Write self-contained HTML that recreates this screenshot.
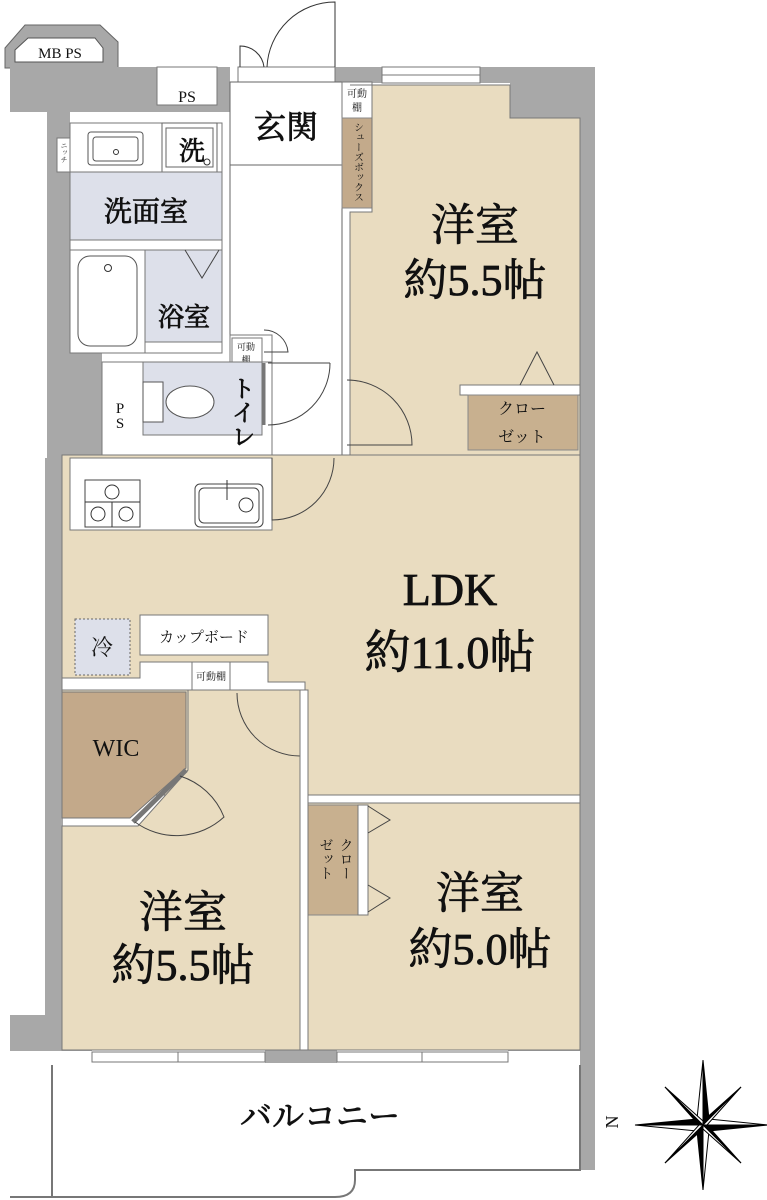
<!DOCTYPE html>
<html><head><meta charset="utf-8"><style>
html,body{margin:0;padding:0;background:#fff;}
svg{display:block}
text{font-family:"Liberation Serif","Noto Serif CJK SC",serif;fill:#111}
.big{stroke:#111;stroke-width:0.8}
</style></head><body>
<svg width="767" height="1200" viewBox="0 0 767 1200" xmlns="http://www.w3.org/2000/svg">
<!-- MB PS -->
<polygon points="5,48 25,25 100,25 118,42 118,68 5,68" fill="#a8a8a8" stroke="#666" stroke-width="1"/>
<polygon points="15,62 15,50 28,38 95,38 103,48 103,62" fill="#fff" stroke="#555" stroke-width="1"/>
<text x="60" y="58" font-size="15" text-anchor="middle">MB PS</text>
<!-- outer gray walls -->
<rect x="10" y="67" width="220" height="45" fill="#a8a8a8"/>
<rect x="47" y="67" width="23" height="393" fill="#a8a8a8"/>
<rect x="47" y="353" width="55" height="107" fill="#a8a8a8"/>
<rect x="45" y="458" width="18" height="560" fill="#a8a8a8"/>
<rect x="335" y="67" width="260" height="16" fill="#a8a8a8"/>
<rect x="510" y="67" width="70" height="51" fill="#a8a8a8"/>
<rect x="580" y="67" width="15" height="1103" fill="#a8a8a8"/>
<rect x="10" y="1015" width="82" height="36" fill="#a8a8a8"/>
<rect x="508" y="1015" width="72" height="36" fill="#a8a8a8"/>
<rect x="265" y="1050" width="72" height="13" fill="#a8a8a8"/>
<!-- windows top -->
<rect x="382" y="67" width="98" height="16" fill="#fff" stroke="#777"/>
<line x1="382" y1="75" x2="480" y2="75" stroke="#777"/>
<!-- entrance door -->
<rect x="238" y="67" width="97" height="15" fill="#fff" stroke="#777"/>
<path d="M335,67 L335,2 A68,68 0 0 0 267,67" fill="none" stroke="#333"/>
<path d="M240,67 L240,46 A24,24 0 0 1 264,67" fill="none" stroke="#333"/>
<!-- PS top -->
<rect x="157" y="67" width="60" height="38" fill="#fff" stroke="#777"/>
<text x="187" y="102" font-size="16" text-anchor="middle">PS</text>
<!-- entrance & corridor -->
<rect x="230" y="82" width="112" height="373" fill="#fff" stroke="#666"/>
<line x1="230" y1="165" x2="342" y2="165" stroke="#666"/>
<text x="286" y="138" font-size="32" text-anchor="middle" class="big">玄関</text>
<rect x="342" y="82" width="30" height="36" fill="#fff" stroke="#777"/>
<text x="357" y="97" font-size="10" text-anchor="middle">可動</text>
<text x="357" y="111" font-size="10" text-anchor="middle">棚</text>
<rect x="342" y="118" width="30" height="90" fill="#c3aa8b" stroke="#888"/>
<text font-size="10" writing-mode="tb" x="357" y="122">シューズボックス</text>
<!-- room 1 top right -->
<polygon points="350,85 510,85 510,118 580,118 580,455 350,455 350,212 372,212 372,85" fill="#e9dcc0" stroke="#777"/>
<text x="475" y="240" font-size="44" text-anchor="middle" class="big">洋室</text>
<text x="475" y="295" font-size="44" text-anchor="middle" class="big">約5.5帖</text>
<rect x="460" y="385" width="120" height="10" fill="#fff" stroke="#777"/>
<rect x="468" y="395" width="110" height="55" fill="#c8b08f" stroke="#888"/>
<polyline points="520,385 537,352 554,385" fill="none" stroke="#444"/>
<text x="522" y="414" font-size="16" text-anchor="middle">クロー</text>
<text x="522" y="442" font-size="16" text-anchor="middle">ゼット</text>
<path d="M347,380 A65,65 0 0 1 412,445 L347,445" fill="none" stroke="#444"/>
<!-- wash area -->
<rect x="70" y="123" width="152" height="230" fill="#fff" stroke="#777"/>
<rect x="57" y="138" width="13" height="34" fill="#fff" stroke="#777"/>
<text x="64" y="142" font-size="7" writing-mode="tb">ニッチ</text>
<rect x="88" y="132" width="55" height="33" rx="3" fill="#fff" stroke="#555"/>
<rect x="93" y="137" width="45" height="24" rx="3" fill="#fff" stroke="#555"/>
<circle cx="116" cy="152" r="2.5" fill="none" stroke="#333"/>
<rect x="162" y="123" width="55" height="49" fill="#fff" stroke="#666"/>
<rect x="166" y="128" width="47" height="39" fill="#fff" stroke="#666"/>
<text x="192" y="160" font-size="26" text-anchor="middle" class="big">洗</text>
<circle cx="207" cy="162" r="3" fill="none" stroke="#333"/>
<rect x="70" y="172" width="152" height="68" fill="#dde0ea" stroke="#777"/>
<text x="146" y="221" font-size="28" text-anchor="middle" class="big">洗面室</text>
<rect x="70" y="250" width="75" height="103" fill="#fff" stroke="#777"/>
<rect x="78" y="256" width="59" height="90" rx="12" fill="#fff" stroke="#555"/>
<circle cx="108" cy="268" r="3.5" fill="none" stroke="#333"/>
<rect x="145" y="250" width="77" height="92" fill="#dde0ea" stroke="#777"/>
<polyline points="185,250 202,278 219,250" fill="none" stroke="#444"/>
<text x="184" y="326" font-size="26" text-anchor="middle" class="big">浴室</text>
<!-- shelf & toilet -->
<rect x="230" y="335" width="42" height="120" fill="#fff" stroke="#777"/>
<rect x="232" y="338" width="30" height="30" fill="#fff" stroke="#777"/>
<text x="246" y="350" font-size="9" text-anchor="middle">可動</text>
<text x="246" y="363" font-size="9" text-anchor="middle">棚</text>
<path d="M264,330 A24,24 0 0 1 288,352 L264,352" fill="none" stroke="#444"/>
<rect x="102" y="362" width="170" height="96" fill="#fff" stroke="#777"/>
<rect x="143" y="362" width="119" height="73" fill="#dde0ea" stroke="#777"/>
<text x="120" y="413" font-size="15" text-anchor="middle">P</text>
<text x="120" y="428" font-size="15" text-anchor="middle">S</text>
<rect x="143" y="382" width="20" height="40" fill="#fff" stroke="#555"/>
<ellipse cx="190" cy="402" rx="24" ry="16" fill="#fff" stroke="#555"/>
<text font-size="24" writing-mode="tb" x="240" y="376" class="big">トイレ</text>
<line x1="264" y1="363" x2="264" y2="425" stroke="#777" stroke-width="3"/>
<path d="M330,363 L268,363 M330,363 A62,62 0 0 1 268,425" fill="none" stroke="#444"/>
<!-- LDK -->
<rect x="62" y="455" width="518" height="340" fill="#e9dcc0" stroke="#777"/>
<rect x="70" y="458" width="202" height="72" fill="#fff" stroke="#777"/>
<rect x="85" y="480" width="55" height="47" fill="#fff" stroke="#444"/>
<circle cx="112" cy="492" r="7" fill="none" stroke="#333"/>
<circle cx="98" cy="514" r="7" fill="none" stroke="#333"/>
<circle cx="126" cy="514" r="7" fill="none" stroke="#333"/>
<line x1="85" y1="502" x2="140" y2="502" stroke="#333"/>
<line x1="112" y1="502" x2="112" y2="527" stroke="#333"/>
<rect x="195" y="484" width="68" height="43" rx="5" fill="#fff" stroke="#444"/>
<rect x="199" y="488" width="60" height="35" rx="5" fill="#fff" stroke="#444"/>
<circle cx="246" cy="505" r="7" fill="none" stroke="#333"/>
<line x1="227" y1="480" x2="227" y2="500" stroke="#333"/>
<path d="M272,458 L272,520 A62,62 0 0 0 334,458" fill="none" stroke="#444"/>
<text x="450" y="605" font-size="46" text-anchor="middle" class="big">LDK</text>
<text x="450" y="668" font-size="46" text-anchor="middle" class="big">約11.0帖</text>
<rect x="75" y="619" width="55" height="56" fill="#dde0ea" stroke="#666" stroke-dasharray="2,2"/>
<text x="102" y="655" font-size="22" text-anchor="middle">冷</text>
<rect x="140" y="615" width="128" height="40" fill="#fff" stroke="#777"/>
<text x="204" y="642" font-size="15" text-anchor="middle">カップボード</text>
<polygon points="62,678 140,678 140,662 268,662 268,682 305,682 305,798 300,798 300,690 62,690" fill="#fff" stroke="#777"/>
<rect x="192" y="662" width="38" height="28" fill="#fff" stroke="#777"/>
<text x="211" y="680" font-size="10" text-anchor="middle">可動棚</text>
<!-- bedroom left -->
<polygon points="62,690 188,690 188,770 138,826 62,826 62,1050 300,1050 300,690 195,690" fill="#e9dcc0" stroke="#777"/>
<polygon points="62,692 186,692 186,768 130,818 62,818" fill="#c3a98a" stroke="#777"/>
<line x1="186" y1="770" x2="133" y2="822" stroke="#777" stroke-width="5"/>
<path d="M180,776 A70,70 0 0 1 224,817 A70,70 0 0 1 135,822" fill="none" stroke="#444"/>
<text x="116" y="756" font-size="24" text-anchor="middle">WIC</text>
<path d="M237,693 A63,63 0 0 0 300,756 L300,693" fill="none" stroke="#444"/>
<text x="183" y="927" font-size="44" text-anchor="middle" class="big">洋室</text>
<text x="183" y="980" font-size="44" text-anchor="middle" class="big">約5.5帖</text>
<!-- bedroom right -->
<rect x="308" y="795" width="272" height="8" fill="#fff" stroke="#777"/>
<rect x="308" y="803" width="272" height="247" fill="#e9dcc0" stroke="#777"/>
<rect x="308" y="805" width="50" height="110" fill="#c8b08f" stroke="#888"/>
<rect x="358" y="805" width="10" height="110" fill="#fff" stroke="#777"/>
<polyline points="368,806 390,820 368,833" fill="none" stroke="#444"/>
<polyline points="368,885 390,898 368,912" fill="none" stroke="#444"/>
<text font-size="14" writing-mode="tb" x="345" y="838">クロー</text>
<text font-size="14" writing-mode="tb" x="325" y="838">ゼット</text>
<text x="480" y="908" font-size="44" text-anchor="middle" class="big">洋室</text>
<text x="480" y="964" font-size="44" text-anchor="middle" class="big">約5.0帖</text>
<rect x="300" y="690" width="8" height="360" fill="#fff" stroke="#777"/>
<!-- bottom windows -->
<rect x="92" y="1052" width="173" height="10" fill="#fff" stroke="#777"/>
<line x1="178" y1="1052" x2="178" y2="1062" stroke="#777"/>
<rect x="337" y="1052" width="171" height="10" fill="#fff" stroke="#777"/>
<line x1="422" y1="1052" x2="422" y2="1062" stroke="#777"/>
<!-- balcony -->
<path d="M52,1065 L52,1197 M10,1197 L335,1197 Q355,1197 355,1180 L355,1170 L580,1170 L580,1065" fill="none" stroke="#777" stroke-width="2"/>
<text x="320" y="1127" font-size="32" text-anchor="middle" class="big">バルコニー</text>
<!-- compass -->
<g transform="translate(703,1125)" stroke="#000" stroke-width="1">
<polygon points="0,-65 6,-6 0,0" fill="#000"/><polygon points="0,-65 -6,-6 0,0" fill="#fff"/>
<polygon points="0,65 -6,6 0,0" fill="#000"/><polygon points="0,65 6,6 0,0" fill="#fff"/>
<polygon points="-68,0 -6,-6 0,0" fill="#000"/><polygon points="-68,0 -6,6 0,0" fill="#fff"/>
<polygon points="65,0 6,6 0,0" fill="#000"/><polygon points="65,0 6,-6 0,0" fill="#fff"/>
<polygon points="-38,-38 -4,0 0,0" fill="#000"/><polygon points="-38,-38 0,-4 0,0" fill="#fff"/>
<polygon points="38,38 4,0 0,0" fill="#000"/><polygon points="38,38 0,4 0,0" fill="#fff"/>
<polygon points="38,-38 0,-4 0,0" fill="#000"/><polygon points="38,-38 4,0 0,0" fill="#fff"/>
<polygon points="-38,38 0,4 0,0" fill="#000"/><polygon points="-38,38 -4,0 0,0" fill="#fff"/>
</g>
<text x="612" y="1128" font-size="18" text-anchor="middle" transform="rotate(-90 612 1122)">N</text>
</svg>
</body></html>
